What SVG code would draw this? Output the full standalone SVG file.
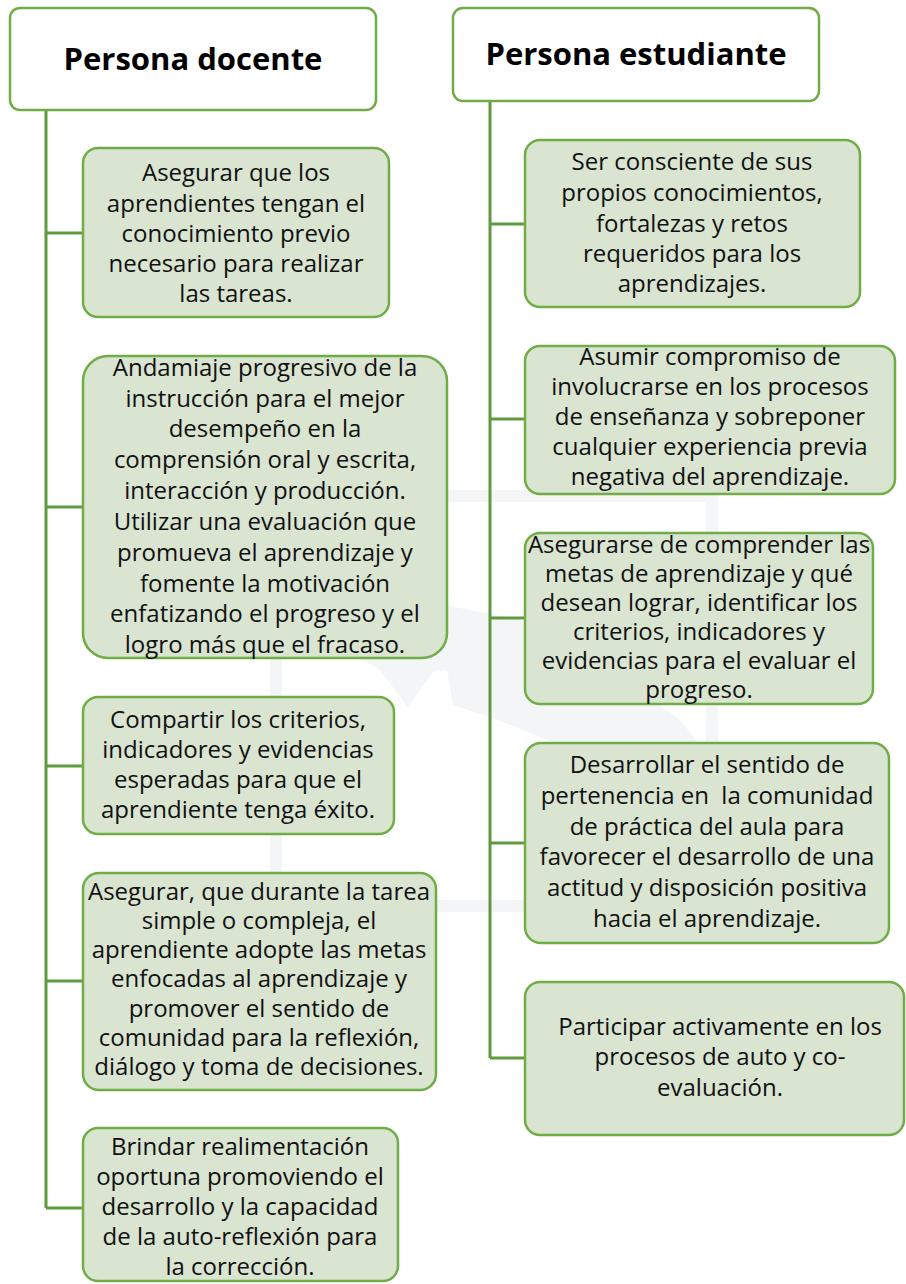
<svg xmlns="http://www.w3.org/2000/svg" width="906" height="1284" viewBox="0 0 906 1284">
<style>
.hdr{fill:#ffffff;stroke:#70ad47;stroke-width:2.5}
.box{fill:#d9e4d1;stroke:#70ad47;stroke-width:2.5}
.ht{font-family:"Open Sans","Liberation Sans",sans-serif;font-weight:bold;font-size:31px;fill:#000;text-anchor:middle}
.bt{font-family:"Open Sans","Liberation Sans",sans-serif;font-size:24px;fill:#111;text-anchor:middle;white-space:pre}
.ln{stroke:#5f9a3e;stroke-width:3;fill:none}
.wm{fill:none;stroke:#f4f5f7;stroke-width:12}
</style>
<rect width="906" height="1284" fill="#ffffff"/>
<g id="watermark">
<rect class="wm" x="276" y="496" width="436" height="410"/>
<path d="M330,640 L420,600 L520,620 L600,660 L680,720 L712,760 L712,840 L660,790 L560,745 L490,717 L453,705 L447,670 L433,672 L408,707 L380,670 Z" fill="#f4f5f7"/>
</g>
<g id="connectors">
<path class="ln" d="M46,110 V1208 M46,233 H83 M46,507 H83 M46,766 H83 M46,981 H83 M46,1208 H83"/>
<path class="ln" d="M490,101 V1058 M490,224 H525 M490,419 H525 M490,618 H525 M490,843 H525 M490,1058 H525"/>
</g>
<g id="header-docente">
<rect class="hdr" x="10" y="8" width="366" height="102" rx="10"/>
<text class="ht" x="193" y="70">Persona docente</text>
</g>
<g id="header-estudiante">
<rect class="hdr" x="453" y="8" width="366" height="93" rx="10"/>
<text class="ht" x="636" y="65">Persona estudiante</text>
</g>
<g id="d1">
<rect class="box" x="83" y="148" width="306" height="169" rx="15"/>
<text class="bt"><tspan x="236" y="181">Asegurar que los</tspan><tspan x="236" y="212">aprendientes tengan el</tspan><tspan x="236" y="242">conocimiento previo</tspan><tspan x="236" y="272">necesario para realizar</tspan><tspan x="236" y="302">las tareas.</tspan></text>
</g>
<g id="d2">
<rect class="box" x="83" y="356" width="364" height="302" rx="25"/>
<text class="bt"><tspan x="265" y="376">Andamiaje progresivo de la</tspan><tspan x="265" y="407">instrucción para el mejor</tspan><tspan x="265" y="437">desempeño en la</tspan><tspan x="265" y="468">comprensión oral y escrita,</tspan><tspan x="265" y="499">interacción y producción.</tspan><tspan x="265" y="530">Utilizar una evaluación que</tspan><tspan x="265" y="561">promueva el aprendizaje y</tspan><tspan x="265" y="592">fomente la motivación</tspan><tspan x="265" y="622">enfatizando el progreso y el</tspan><tspan x="265" y="653">logro más que el fracaso.</tspan></text>
</g>
<g id="d3">
<rect class="box" x="83" y="697" width="311" height="137" rx="15"/>
<text class="bt"><tspan x="238" y="728">Compartir los criterios,</tspan><tspan x="238" y="758">indicadores y evidencias</tspan><tspan x="238" y="788">esperadas para que el</tspan><tspan x="238" y="818">aprendiente tenga éxito.</tspan></text>
</g>
<g id="d4">
<rect class="box" x="83" y="873" width="353" height="217" rx="16"/>
<text class="bt"><tspan x="259" y="900">Asegurar, que durante la tarea</tspan><tspan x="259" y="929">simple o compleja, el</tspan><tspan x="259" y="958">aprendiente adopte las metas</tspan><tspan x="259" y="987">enfocadas al aprendizaje y</tspan><tspan x="259" y="1017">promover el sentido de</tspan><tspan x="259" y="1046">comunidad para la reflexión,</tspan><tspan x="259" y="1075">diálogo y toma de decisiones.</tspan></text>
</g>
<g id="d5">
<rect class="box" x="83" y="1128" width="315" height="153" rx="15"/>
<text class="bt"><tspan x="240" y="1155">Brindar realimentación</tspan><tspan x="240" y="1185">oportuna promoviendo el</tspan><tspan x="240" y="1215">desarrollo y la capacidad</tspan><tspan x="240" y="1245">de la auto-reflexión para</tspan><tspan x="240" y="1275">la corrección.</tspan></text>
</g>
<g id="e1">
<rect class="box" x="525" y="140" width="335" height="167" rx="15"/>
<text class="bt"><tspan x="692" y="170">Ser consciente de sus</tspan><tspan x="692" y="201">propios conocimientos,</tspan><tspan x="692" y="232">fortalezas y retos</tspan><tspan x="692" y="262">requeridos para los</tspan><tspan x="692" y="292">aprendizajes.</tspan></text>
</g>
<g id="e2">
<rect class="box" x="525" y="346" width="370" height="148" rx="15"/>
<text class="bt"><tspan x="710" y="365">Asumir compromiso de</tspan><tspan x="710" y="395">involucrarse en los procesos</tspan><tspan x="710" y="425">de enseñanza y sobreponer</tspan><tspan x="710" y="455">cualquier experiencia previa</tspan><tspan x="710" y="485">negativa del aprendizaje.</tspan></text>
</g>
<g id="e3">
<rect class="box" x="525" y="533" width="348" height="171" rx="15"/>
<text class="bt"><tspan x="699" y="553">Asegurarse de comprender las</tspan><tspan x="699" y="582">metas de aprendizaje y qué</tspan><tspan x="699" y="611">desean lograr, identificar los</tspan><tspan x="699" y="640">criterios, indicadores y</tspan><tspan x="699" y="669">evidencias para el evaluar el</tspan><tspan x="699" y="698">progreso.</tspan></text>
</g>
<g id="e4">
<rect class="box" x="525" y="743" width="364" height="200" rx="16"/>
<text class="bt"><tspan x="707" y="773">Desarrollar el sentido de</tspan><tspan x="707" y="804">pertenencia en  la comunidad</tspan><tspan x="707" y="835">de práctica del aula para</tspan><tspan x="707" y="865">favorecer el desarrollo de una</tspan><tspan x="707" y="896">actitud y disposición positiva</tspan><tspan x="707" y="927">hacia el aprendizaje.</tspan></text>
</g>
<g id="e5">
<rect class="box" x="525" y="982" width="379" height="153" rx="15"/>
<text class="bt"><tspan x="720" y="1035">Participar activamente en los</tspan><tspan x="720" y="1065">procesos de auto y co-</tspan><tspan x="720" y="1096">evaluación.</tspan></text>
</g>
</svg>
